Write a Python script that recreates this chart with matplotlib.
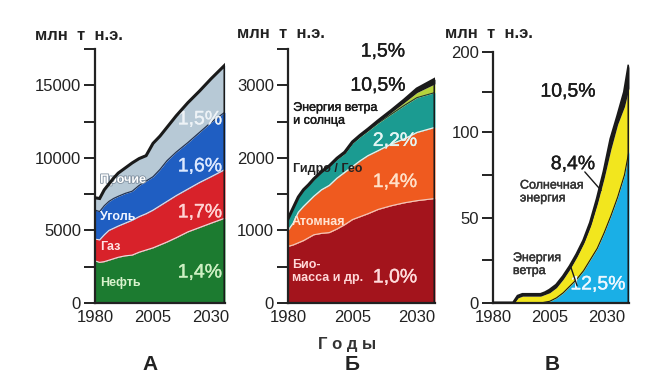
import numpy as np
import matplotlib
matplotlib.use("Agg")
import matplotlib.pyplot as plt
import matplotlib.patheffects as pe

plt.rcParams['font.family'] = ['Liberation Sans', 'DejaVu Sans']

# --- panel A: world primary energy demand by fuel ---
years_a = [1980, 1982, 1984, 1986, 1988, 1990, 1993, 1996, 1999, 2002, 2005,
           2008, 2011, 2015, 2020, 2025, 2030, 2036]
oil_a = [2900, 2800, 2850, 2950, 3050, 3150, 3250, 3300, 3500, 3650, 3800,
         4000, 4200, 4500, 4900, 5200, 5500, 5850]
gas_top_a = [4400, 4350, 4700, 5000, 5150, 5300, 5500, 5700, 5950, 6150, 6400,
             6700, 7000, 7400, 7850, 8300, 8700, 9200]
coal_top_a = [6400, 6300, 6700, 7000, 7200, 7350, 7550, 7700, 8100, 8400, 8700,
              9200, 9800, 10400, 11050, 11750, 12450, 13150]
total_a = [7250, 7200, 7800, 8200, 8600, 8950, 9300, 9650, 9950, 10150, 11000,
           11500, 12100, 12900, 13800, 14600, 15450, 16400]

# --- panel B: renewables and nuclear ---
years_b = [1980, 1982, 1984, 1986, 1988, 1990, 1993, 1996, 1999, 2002, 2005,
           2008, 2011, 2015, 2020, 2025, 2030, 2037]
bio_b = [780, 800, 830, 860, 900, 940, 960, 970, 1020, 1080, 1150,
         1190, 1230, 1290, 1340, 1380, 1410, 1440]
nuc_top_b = [1000, 1100, 1250, 1330, 1400, 1470, 1560, 1620, 1720, 1800, 1880,
             1960, 2030, 2100, 2190, 2260, 2350, 2420]
hydro_top_b = [1150, 1300, 1450, 1550, 1620, 1700, 1800, 1880, 1980, 2060, 2200,
               2290, 2370, 2480, 2600, 2720, 2830, 2900]
ws_top_b = [1152, 1302, 1452, 1552, 1622, 1702, 1802, 1882, 1983, 2064, 2205,
            2296, 2378, 2492, 2625, 2760, 2900, 3020]
total_b = [1160, 1310, 1460, 1560, 1630, 1710, 1810, 1890, 1995, 2078, 2220,
           2312, 2395, 2512, 2650, 2795, 2950, 3085]

# --- panel C: wind and solar ---
years_c = [1980, 1989, 1991, 1993, 1997, 2001, 2003, 2005, 2008, 2011, 2014,
           2017, 2020, 2023, 2026, 2029, 2032, 2035, 2038, 2040]
wind_c = [0, 0, 0, 0, 0, 0, 0.5, 1, 3, 6, 10, 14, 19, 25.5, 32, 41, 51, 62, 75, 89]
solar_top_c = [0, 0, 3, 4, 4, 4, 5, 6, 9, 14, 20, 27, 35, 45, 58, 73, 90, 110, 132, 155]
total_c = [0, 0, 4, 5, 5, 5, 6, 7.5, 10.5, 15.5, 21.5, 28.5, 36.5, 47, 61, 77, 96, 120, 150, 184]

xtick_years = [1980, 2005, 2030]
title_txt = "млн  т  н.э."


def style_axis(ax, xmax):
    ax.set_xlim(1980, xmax)
    for s in ("top", "right"):
        ax.spines[s].set_visible(False)
    for s in ("left", "bottom"):
        ax.spines[s].set_linewidth(1.6)
        ax.spines[s].set_color("#222")
    ax.set_xticks(xtick_years)
    ax.tick_params(axis="x", length=0, labelsize=12, pad=5, colors="#222")
    ax.tick_params(axis="y", which="both", length=8, width=1.4, labelsize=12,
                   pad=2, colors="#222", direction="out")


def outline(ax, years, total):
    ax.plot(years + [years[-1]], total + [0], color="#1a1a1a", lw=2.2,
            solid_joinstyle="miter", zorder=5)


def medium(color, w=0.3):
    # fake a medium weight by stroking regular glyphs in their own colour
    return [pe.withStroke(linewidth=w, foreground=color)]


def pct_text(ax, x, y, s, color):
    ax.text(x, y, s, color=color, fontsize=14, va="center", ha="center",
            path_effects=medium(color, 0.25))


fig = plt.figure(figsize=(6.46, 3.83), dpi=100)
W, H = 646, 383


def add_ax(l, r, t, b=303):
    return fig.add_axes([l / W, (H - b) / H, (r - l) / W, (b - t) / H])


# ---------- A ----------
ax = add_ax(95, 225, 49)
ax.fill_between(years_a, 0, oil_a, color="#1c7b30", lw=0)
ax.fill_between(years_a, oil_a, gas_top_a, color="#d8222a", lw=0)
ax.fill_between(years_a, gas_top_a, coal_top_a, color="#1f5ec2", lw=0)
ax.fill_between(years_a, coal_top_a, total_a, color="#b7c9d6", lw=0)
ax.plot(years_a, oil_a, color="#e8e0e0", lw=0.8)
ax.plot(years_a, gas_top_a, color="#f0e0e0", lw=0.8)
ax.plot(years_a, coal_top_a, color="#223355", lw=0.9)
outline(ax, years_a, total_a)
style_axis(ax, 2036)
ax.set_ylim(0, 17500)
ax.set_yticks([0, 5000, 10000, 15000])
ax.set_yticks([2500, 7500, 12500, 17500], minor=True)

lab = dict(fontsize=9, va="center", ha="left", fontweight="bold")
ax.text(1982.2, 8480, "Прочие", color="white",
        path_effects=[pe.withStroke(linewidth=1.2, foreground="#8090a0")], **lab)
ax.text(1982.2, 5930, "Уголь", color="#f0f4ff", **lab)
ax.text(1982.2, 3860, "Газ", color="#ffe4e4", **lab)
ax.text(1982.2, 1380, "Нефть", color="#d8f2cc", **lab)
pct_text(ax, 2025.2, 12620, "1,5%", "#eef3f7")
pct_text(ax, 2025.2, 9380, "1,6%", "#dde9ff")
pct_text(ax, 2025.2, 6210, "1,7%", "#ffd4d4")
pct_text(ax, 2025.2, 2070, "1,4%", "#cdf0c2")

# ---------- Б ----------
ax = add_ax(288, 435, 49)
ax.fill_between(years_b, 0, bio_b, color="#a3141c", lw=0)
ax.fill_between(years_b, bio_b, nuc_top_b, color="#ef5a1f", lw=0)
ax.fill_between(years_b, nuc_top_b, hydro_top_b, color="#1b9b91", lw=0)
ax.fill_between(years_b, hydro_top_b, ws_top_b, color="#b6d33c", lw=0)
ax.fill_between(years_b, ws_top_b, total_b, color="#1a1a1a", lw=0)
ax.plot(years_b, bio_b, color="#f2c8c0", lw=0.8)
ax.plot(years_b, nuc_top_b, color="#f4eee8", lw=0.9)
ax.plot(years_b, hydro_top_b, color="#203838", lw=0.8)
outline(ax, years_b, total_b)
style_axis(ax, 2037)
ax.set_ylim(0, 3500)
ax.set_yticks([0, 1000, 2000, 3000])
ax.set_yticks([500, 1500, 2500, 3500], minor=True)

pct_text(ax, 2016.8, 3458, "1,5%", "#1a1a1a")
pct_text(ax, 2014.9, 2988, "10,5%", "#1a1a1a")
ax.text(1982, 2600, "Энергия ветра\nи солнца", color="#1a1a1a", fontsize=9,
        va="center", ha="left", linespacing=1.1, path_effects=medium("#1a1a1a"))
ax.text(1982, 1840, "Гидро / Гео", color="#222", **lab)
pct_text(ax, 2021.5, 2227, "2,2%", "#e4f6f4")
pct_text(ax, 2021.5, 1660, "1,4%", "#ffe0c8")
ax.text(1981.5, 1120, "Атомная", color="#ffe4d4", **lab)
ax.text(1981.5, 440, "Био-\nмасса и др.", color="#ffd8d8", fontsize=9,
        va="center", ha="left", linespacing=1.1, fontweight="bold")
pct_text(ax, 2021.5, 346, "1,0%", "#ffdcdc")

# ---------- В ----------
K = 0.47


def fwd(y):
    y = np.asarray(y, dtype=float)
    return np.where(y <= 100, y, 100 + (y - 100) * K)


def inv(y):
    y = np.asarray(y, dtype=float)
    return np.where(y <= 100, y, 100 + (y - 100) / K)


ax = add_ax(493, 629, 52)
ax.set_yscale("function", functions=(fwd, inv))
ax.fill_between(years_c, 0, wind_c, color="#1aafe6", lw=0)
ax.fill_between(years_c, wind_c, solar_top_c, color="#f2e61e", lw=0)
ax.fill_between(years_c, solar_top_c, total_c, color="#1a1a1a", lw=0)
ax.plot(years_c, wind_c, color="#1a1a1a", lw=0.8)
outline(ax, years_c, total_c)
style_axis(ax, 2040)
ax.set_ylim(0, 200)
ax.set_yticks([0, 50, 100, 200])
ax.set_yticklabels(["0", "50", "100", "200"])
ax.set_yticks([25, 75, 150], minor=True)
ax.yaxis.set_minor_formatter(plt.NullFormatter())

pct_text(ax, 2013.1, 150, "10,5%", "#1a1a1a")
pct_text(ax, 2015.3, 81, "8,4%", "#1a1a1a")
ax.text(1991.9, 65, "Солнечная\nэнергия", color="#333", fontsize=9,
        va="center", ha="left", linespacing=1.1, path_effects=medium("#333"))
ax.text(1988.8, 22.5, "Энергия\nветра", color="#333", fontsize=9,
        va="center", ha="left", linespacing=1.1, path_effects=medium("#333"))
pct_text(ax, 2026.3, 10.6, "12,5%", "#eef8ff")
ax.annotate("", xy=(2028.5, 64.7), xytext=(2019.7, 78),
            arrowprops=dict(arrowstyle="-", color="#1a1a1a", lw=1.0))
ax.annotate("", xy=(2017.5, 8.5), xytext=(2014, 22.4),
            arrowprops=dict(arrowstyle="-", color="#1a1a1a", lw=1.0))

# ---------- titles and letters ----------
for x0, y0 in [(35, 36), (237, 34), (445, 34)]:
    fig.text(x0 / W, 1 - y0 / H, title_txt, fontsize=12, fontweight="bold",
             color="#222", ha="left", va="center")
for x0, s in [(150, "А"), (352, "Б"), (552, "В")]:
    fig.text(x0 / W, 1 - 365 / H, s, fontsize=15, fontweight="bold",
             color="#222", ha="center", va="center")
fig.text(347 / W, 1 - 344 / H, "Г о д ы", fontsize=12, fontweight="bold",
         color="#333", ha="center", va="center")

fig.savefig("out.png", dpi=100, facecolor="white")
